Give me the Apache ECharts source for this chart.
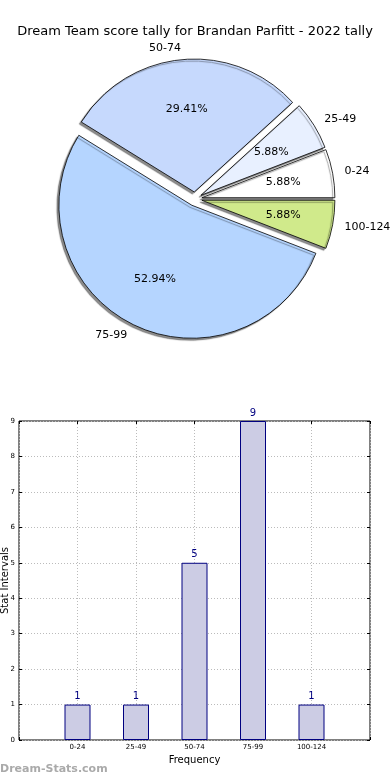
<!DOCTYPE html>
<html><head><meta charset="utf-8">
<script src="https://cdn.jsdelivr.net/npm/echarts@6/dist/echarts.min.js"></script>
<style>html,body{margin:0;padding:0;background:#fff}#c{width:390px;height:780px}</style>
</head><body><div id="c"></div>
<script>
const title = "Dream Team score tally for Brandan Parfitt - 2022 tally";
const categories = ["0-24", "25-49", "50-74", "75-99", "100-124"];
const counts = [1, 1, 5, 9, 1];
const sliceColors = ["#ffffff", "#e8f0ff", "#c6d9fd", "#b5d5ff", "#d0ea8b"];
const yTicks = [0, 1, 2, 3, 4, 5, 6, 7, 8, 9];
const xName = "Frequency";
const yName = "Stat Intervals";
const watermark = "Dream-Stats.com";

const total = counts.reduce((a, b) => a + b, 0);
const R = 133, CX = 195, CY = 199, OFF = 7;
const font = "DejaVu Sans";

const pieData = categories.map((c, i) => ({
  name: c, value: counts[i], selected: true,
  itemStyle: { color: sliceColors[i] }
}));
const pctData = categories.map((c, i) => ({
  name: c, value: counts[i], selected: true
}));

const tickStyle = { show: true, inside: true, length: 3, lineStyle: { color: '#000' } };

const chart = echarts.init(document.getElementById('c'), null, { renderer: 'canvas' });
chart.setOption({
  animation: false,
  backgroundColor: '#fff',
  title: {
    text: title, left: 'center', top: 20,
    textStyle: { fontFamily: font, fontSize: 13, fontWeight: 'normal', color: '#000' }
  },
  graphic: [{
    type: 'text', left: 0, top: 764,
    style: { text: watermark, fontFamily: font, fontSize: 11, fontWeight: 'bold', fill: '#aaaaaa' }
  }],
  grid: { left: 19, right: 20, top: 421, bottom: 40, containLabel: false, outerBoundsMode: 'none',
    show: true, borderColor: '#000', borderWidth: 1, backgroundColor: 'transparent' },
  xAxis: [{
    type: 'value', min: -1, max: 5, interval: 1,
    name: xName, nameLocation: 'middle', nameGap: 15, nameMoveOverlap: false,
    nameTextStyle: { fontFamily: font, fontSize: 10, color: '#000' },
    axisLine: { show: false, onZero: false },
    axisTick: tickStyle,
    axisLabel: { fontFamily: font, fontSize: 7, color: '#000', margin: 4,
      formatter: v => (categories[v] !== undefined ? categories[v] : '') },
    splitLine: { show: true, lineStyle: { type: [1, 2], color: '#bbbbbb', width: 1 } }
  }, {
    type: 'value', position: 'top', min: -1, max: 5, interval: 1,
    axisLine: { show: false, onZero: false }, axisLabel: { show: false }, splitLine: { show: false },
    axisTick: tickStyle
  }],
  yAxis: [{
    type: 'value', min: yTicks[0], max: yTicks[yTicks.length - 1], interval: 1,
    name: yName, nameLocation: 'middle', nameGap: 9, nameRotate: 90, nameMoveOverlap: false,
    nameTextStyle: { fontFamily: font, fontSize: 10, color: '#000' },
    axisLine: { show: false, onZero: false },
    axisTick: tickStyle,
    axisLabel: { fontFamily: font, fontSize: 7, color: '#000', margin: 4 },
    splitLine: { show: true, lineStyle: { type: [1, 2], color: '#bbbbbb', width: 1 } }
  }, {
    type: 'value', position: 'right', min: yTicks[0], max: yTicks[yTicks.length - 1], interval: 1,
    axisLine: { show: false, onZero: false }, axisLabel: { show: false }, splitLine: { show: false },
    axisTick: tickStyle
  }],
  series: [
    {
      type: 'pie', center: [CX, CY], radius: [0, R],
      startAngle: 0, clockwise: false, avoidLabelOverlap: false,
      selectedMode: 'multiple', selectedOffset: OFF, silent: true,
      itemStyle: { borderColor: '#000', borderWidth: 0.8,
        shadowColor: 'rgba(0,0,0,0.45)', shadowOffsetX: -2, shadowOffsetY: 2, shadowBlur: 1 },
      label: { show: true, position: 'outside', fontFamily: font, fontSize: 11, color: '#000',
        distanceToLabelLine: 0, formatter: '{b}' },
      labelLine: { show: false, length: 12, length2: 0 },
      emphasis: { disabled: true },
      data: pieData
    },
    {
      type: 'pie', center: [CX, CY], radius: [0, R * 1.2],
      startAngle: 0, clockwise: false, avoidLabelOverlap: false,
      selectedMode: 'multiple', selectedOffset: OFF, silent: true, z: 5,
      itemStyle: { color: 'rgba(0,0,0,0)', borderWidth: 0 },
      label: { show: true, position: 'inside', fontFamily: font, fontSize: 11, color: '#000',
        formatter: p => (p.value / total * 100).toFixed(2) + '%' },
      labelLine: { show: false },
      emphasis: { disabled: true },
      data: pctData
    },
    {
      type: 'bar', xAxisIndex: 0, yAxisIndex: 0, barWidth: 26,
      itemStyle: { color: '#ccccE4', borderColor: '#000080', borderWidth: 1 },
      label: { show: true, position: 'top', distance: 3, fontFamily: font, fontSize: 10, color: '#000080',
        formatter: p => p.value[1] },
      emphasis: { disabled: true },
      data: categories.map((c, i) => [i, counts[i]])
    }
  ]
});
</script></body></html>
